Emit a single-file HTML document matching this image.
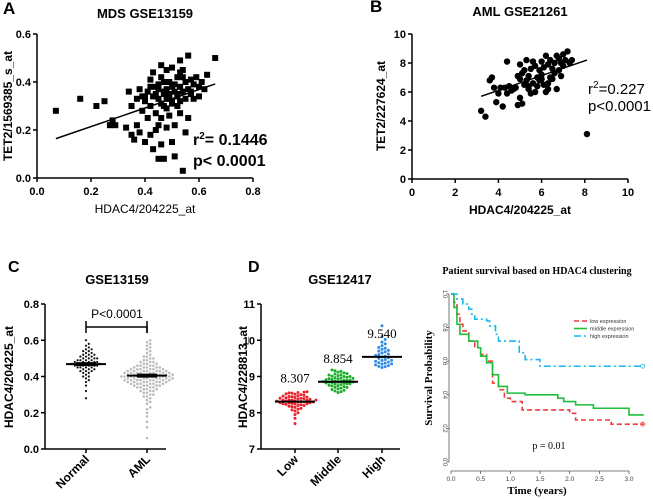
<!DOCTYPE html>
<html><head><meta charset="utf-8">
<style>
body{margin:0;background:#fff;}
svg{display:block;font-family:"Liberation Sans",Arial,sans-serif;}
.b{font-weight:bold;}
.serif{font-family:"Liberation Serif",serif;}
</style></head>
<body>
<svg id="s" width="653" height="500" viewBox="0 0 653 500"></svg>
<script>
// ---------- data ----------
const aX=[0.07,0.16,0.22,0.25,0.27,0.28,0.29,0.33,0.34,0.35,0.35,0.36,0.37,0.37,0.38,0.38,0.39,0.39,0.40,0.40,0.41,0.41,0.42,0.42,0.42,0.43,0.43,0.43,0.44,0.44,0.44,0.45,0.45,0.45,0.45,0.46,0.46,0.46,0.46,0.47,0.47,0.47,0.47,0.48,0.48,0.48,0.48,0.49,0.49,0.49,0.50,0.50,0.50,0.50,0.51,0.51,0.51,0.52,0.52,0.52,0.53,0.53,0.53,0.53,0.54,0.54,0.54,0.55,0.55,0.55,0.56,0.56,0.56,0.57,0.57,0.58,0.58,0.59,0.60,0.60,0.61,0.62,0.63,0.66,0.44,0.46,0.48,0.50,0.52,0.54,0.42,0.40,0.57,0.49,0.51,0.45,0.47,0.53];
const aY=[0.28,0.33,0.30,0.32,0.22,0.24,0.22,0.21,0.36,0.18,0.30,0.16,0.22,0.33,0.19,0.37,0.34,0.28,0.15,0.32,0.25,0.36,0.41,0.18,0.30,0.12,0.34,0.44,0.20,0.35,0.27,0.08,0.39,0.33,0.22,0.47,0.14,0.31,0.25,0.36,0.08,0.30,0.40,0.45,0.33,0.21,0.37,0.26,0.35,0.40,0.15,0.46,0.32,0.38,0.09,0.36,0.22,0.42,0.30,0.34,0.49,0.27,0.38,0.32,0.03,0.45,0.36,0.19,0.40,0.33,0.51,0.25,0.37,0.41,0.35,0.39,0.33,0.42,0.34,0.38,0.40,0.37,0.43,0.50,0.38,0.42,0.29,0.31,0.35,0.42,0.38,0.34,0.36,0.33,0.39,0.37,0.35,0.44];
const aFit=[0.07,0.164,0.66,0.392];
const bX=[3.2,3.4,3.6,3.7,3.8,3.9,4.0,4.1,4.2,4.3,4.4,4.5,4.6,4.7,4.8,4.9,5.0,5.0,5.1,5.1,5.2,5.2,5.3,5.3,5.4,5.4,5.5,5.5,5.6,5.6,5.7,5.7,5.8,5.8,5.9,5.9,6.0,6.0,6.1,6.1,6.2,6.2,6.3,6.3,6.4,6.4,6.5,6.5,6.6,6.6,6.7,6.7,6.8,6.8,6.9,6.9,7.0,7.0,7.1,7.2,7.3,7.4,8.1,4.4,4.9,5.4,6.0,6.3,5.0];
const bY=[4.7,4.3,6.8,7.0,6.3,5.3,5.9,6.3,5.0,6.3,8.1,6.4,6.1,6.2,6.3,5.1,6.9,5.6,7.3,5.2,6.5,7.5,8.2,6.8,7.1,6.2,7.6,5.9,8.1,6.6,7.8,6.0,7.0,6.4,7.5,6.8,8.1,7.2,6.5,7.7,8.5,6.0,7.9,6.6,8.2,7.0,7.6,6.9,8.0,7.3,8.5,6.2,8.3,7.5,8.0,7.1,8.6,7.8,8.2,8.8,8.0,8.2,3.1,5.9,7.1,6.4,6.9,6.2,7.9];
const bFit=[3.2,5.7,8.1,8.2];
const cCats=["Normal","AML"];
const cMeans=[0.468,0.405];
const cNormal=[0.28,0.32,0.35,0.37,0.38,0.39,0.40,0.40,0.41,0.42,0.42,0.43,0.43,0.43,0.44,0.44,0.44,0.45,0.45,0.45,0.45,0.46,0.46,0.46,0.46,0.46,0.47,0.47,0.47,0.47,0.47,0.47,0.48,0.48,0.48,0.48,0.48,0.49,0.49,0.49,0.49,0.50,0.50,0.50,0.50,0.51,0.51,0.51,0.52,0.52,0.52,0.53,0.53,0.54,0.54,0.55,0.55,0.56,0.57,0.58,0.60];
const cAML=[0.06,0.12,0.15,0.18,0.20,0.22,0.23,0.25,0.26,0.27,0.28,0.29,0.29,0.30,0.30,0.31,0.31,0.32,0.32,0.32,0.33,0.33,0.33,0.34,0.34,0.34,0.34,0.35,0.35,0.35,0.35,0.35,0.36,0.36,0.36,0.36,0.36,0.36,0.37,0.37,0.37,0.37,0.37,0.37,0.37,0.38,0.38,0.38,0.38,0.38,0.38,0.38,0.38,0.39,0.39,0.39,0.39,0.39,0.39,0.39,0.39,0.40,0.40,0.40,0.40,0.40,0.40,0.40,0.40,0.40,0.41,0.41,0.41,0.41,0.41,0.41,0.41,0.41,0.42,0.42,0.42,0.42,0.42,0.42,0.42,0.42,0.43,0.43,0.43,0.43,0.43,0.43,0.43,0.44,0.44,0.44,0.44,0.44,0.44,0.45,0.45,0.45,0.45,0.45,0.46,0.46,0.46,0.46,0.47,0.47,0.47,0.48,0.48,0.48,0.49,0.49,0.50,0.50,0.51,0.51,0.52,0.53,0.54,0.55,0.56,0.57,0.58,0.59,0.60];
const dCats=["Low","Middle","High"];
const dMeans=[8.307,8.854,9.540];
const dLow=[7.70,7.85,7.95,8.00,8.05,8.08,8.10,8.12,8.15,8.17,8.18,8.20,8.20,8.22,8.23,8.24,8.25,8.26,8.27,8.28,8.28,8.29,8.30,8.30,8.31,8.32,8.32,8.33,8.34,8.35,8.35,8.36,8.37,8.38,8.39,8.40,8.40,8.41,8.42,8.43,8.44,8.45,8.46,8.47,8.48,8.50,8.51,8.52,8.54,8.55,8.56,8.57,8.58,8.25,8.35];
const dMid=[8.56,8.58,8.60,8.62,8.64,8.66,8.68,8.70,8.72,8.74,8.75,8.76,8.78,8.79,8.80,8.81,8.82,8.83,8.84,8.85,8.85,8.86,8.87,8.88,8.89,8.90,8.91,8.92,8.93,8.94,8.95,8.96,8.97,8.98,9.00,9.01,9.02,9.04,9.05,9.07,9.08,9.10,9.12,9.14,9.16,9.18,8.70,8.90,8.80,9.00];
const dHigh=[9.25,9.27,9.28,9.30,9.32,9.34,9.35,9.37,9.38,9.40,9.42,9.44,9.45,9.47,9.50,9.52,9.54,9.56,9.58,9.60,9.62,9.65,9.68,9.70,9.72,9.75,9.78,9.80,9.85,9.90,9.95,10.02,10.10,10.40];
const sTime=[0,3.25];
const lowT=[0,0.05,0.1,0.15,0.2,0.3,0.4,0.5,0.6,0.7,0.8,0.9,1.0,1.2,2.0,2.1,2.7];
const lowS=[1,0.95,0.88,0.82,0.78,0.72,0.68,0.64,0.60,0.47,0.43,0.38,0.36,0.31,0.29,0.25,0.225];
const midT=[0,0.05,0.1,0.15,0.3,0.45,0.5,0.6,0.7,0.8,0.95,1.25,1.8,1.9,2.1,2.4,3.0];
const midS=[1,0.92,0.82,0.76,0.72,0.68,0.63,0.59,0.52,0.45,0.41,0.40,0.38,0.36,0.34,0.32,0.28];
const highT=[0,0.1,0.2,0.3,0.35,0.4,0.6,0.65,0.75,0.8,1.15,1.25,1.5];
const highS=[1,0.97,0.94,0.91,0.88,0.85,0.84,0.81,0.76,0.72,0.65,0.61,0.57];

// ---------- helpers ----------
const NS="http://www.w3.org/2000/svg", S=document.getElementById('s');
function el(t,a,p){const e=document.createElementNS(NS,t);for(const k in a)e.setAttribute(k,a[k]);(p||S).appendChild(e);return e;}
function tx(x,y,s,a,p){const e=el('text',Object.assign({x:x,y:y},a),p);e.textContent=s;return e;}
function lin(d0,d1,r0,r1){return v=>r0+(v-d0)*(r1-r0)/(d1-d0);}
function grp(name){const g=el('g',{});return g;}

// ---------- Panel A ----------
(function(){
 const g=grp('panel-a'); const X=lin(0,0.8,37,253), Y=lin(0,0.6,178,34);
 tx(3,14,'A',{'font-size':17,class:'b'},g);
 const t=tx(145,18,'MDS GSE13159',{'font-size':13,class:'b','text-anchor':'middle'},g);
 el('line',{x1:37,y1:34,x2:37,y2:178,stroke:'#000','stroke-width':1.5},g);
 el('line',{x1:37,y1:178,x2:253,y2:178,stroke:'#000','stroke-width':1.5},g);
 [0,0.2,0.4,0.6].forEach(v=>{el('line',{x1:33,x2:37,y1:Y(v),y2:Y(v),stroke:'#000','stroke-width':1.5},g);tx(31,Y(v)+4,v.toFixed(1),{'font-size':11,class:'b','text-anchor':'end'},g);});
 [0,0.2,0.4,0.6,0.8].forEach(v=>{el('line',{x1:X(v),x2:X(v),y1:178,y2:182,stroke:'#000','stroke-width':1.5},g);tx(X(v),195,v.toFixed(1),{'font-size':11,class:'b','text-anchor':'middle'},g);});
 tx(145,213,'HDAC4/204225_at',{'font-size':12,'text-anchor':'middle'},g);
 tx(0,0,'TET2/1569385_s_at',{'font-size':12,class:'b','text-anchor':'middle',transform:'translate(12,106) rotate(-90)'},g);
 aX.forEach((v,i)=>{const r=el('rect',{x:X(v)-3,y:Y(aY[i])-3,width:6,height:6,fill:'#000'},g);});
 el('line',{x1:X(aFit[0]),y1:Y(aFit[1]),x2:X(aFit[2]),y2:Y(aFit[3]),stroke:'#000','stroke-width':1.5},g);
 const r2=tx(193,145,'',{'font-size':16,class:'b'},g);r2.innerHTML='r<tspan dy="-6" font-size="10">2</tspan><tspan dy="6">= 0.1446</tspan>';
 tx(193,166,'p< 0.0001',{'font-size':16,class:'b'},g);
})();

// ---------- Panel B ----------
(function(){
 const g=grp('panel-b'); const X=lin(0,10,412,628), Y=lin(0,10,179,34);
 tx(370,12,'B',{'font-size':17,class:'b'},g);
 tx(520,16,'AML GSE21261',{'font-size':13,class:'b','text-anchor':'middle'},g);
 el('line',{x1:412,y1:34,x2:412,y2:179,stroke:'#000','stroke-width':1.5},g);
 el('line',{x1:412,y1:179,x2:628,y2:179,stroke:'#000','stroke-width':1.5},g);
 [0,2,4,6,8,10].forEach(v=>{el('line',{x1:408,x2:412,y1:Y(v),y2:Y(v),stroke:'#000','stroke-width':1.5},g);tx(406,Y(v)+4,v,{'font-size':11,class:'b','text-anchor':'end'},g);
  el('line',{x1:X(v),x2:X(v),y1:179,y2:183,stroke:'#000','stroke-width':1.5},g);tx(X(v),196,v,{'font-size':11,class:'b','text-anchor':'middle'},g);});
 tx(520,214,'HDAC4/204225_at',{'font-size':12,class:'b','text-anchor':'middle'},g);
 tx(0,0,'TET2/227624_at',{'font-size':12,class:'b','text-anchor':'middle',transform:'translate(385,106) rotate(-90)'},g);
 bX.forEach((v,i)=>{const c=el('circle',{cx:X(v),cy:Y(bY[i]),r:3.2,fill:'#000'},g);});
 el('line',{x1:X(bFit[0]),y1:Y(bFit[1]),x2:X(bFit[2]),y2:Y(bFit[3]),stroke:'#000','stroke-width':1.5},g);
 const r2=tx(588,94,'',{'font-size':15},g);r2.innerHTML='r<tspan dy="-6" font-size="10">2</tspan><tspan dy="6">=0.227</tspan>';
 tx(588,111,'p<0.0001',{'font-size':15},g);
})();

// swarm layout
function swarm(vals,Y,cx,d,g,fill,r,name){
 const placed=[];
 vals.slice().sort((a,b)=>a-b).forEach(v=>{
  const y=Y(v);let k=0,x=cx;
  while(true){const off=(k%2?1:-1)*Math.ceil(k/2)*d;x=cx+off;
   if(!placed.some(p=>Math.abs(p[0]-x)<d-0.01&&Math.abs(p[1]-y)<d-0.01))break;k++;if(k>60)break;}
  placed.push([x,y]);
  const c=el('circle',{cx:x,cy:y,r:r,fill:fill},g);});
}

// ---------- Panel C ----------
(function(){
 const g=grp('panel-c'); const Y=lin(0,0.8,449,304); const cx=[86,147];
 tx(8,272,'C',{'font-size':16,class:'b'},g);
 tx(117,284,'GSE13159',{'font-size':13,class:'b','text-anchor':'middle'},g);
 el('line',{x1:45,y1:304,x2:45,y2:449,stroke:'#000','stroke-width':1.5},g);
 el('line',{x1:45,y1:449,x2:166,y2:449,stroke:'#000','stroke-width':1.5},g);
 [0,0.2,0.4,0.6,0.8].forEach(v=>{el('line',{x1:41,x2:45,y1:Y(v),y2:Y(v),stroke:'#000','stroke-width':1.5},g);tx(39,Y(v)+4,v.toFixed(1),{'font-size':11,class:'b','text-anchor':'end'},g);});
 cCats.forEach((c,i)=>{el('line',{x1:cx[i],x2:cx[i],y1:449,y2:453,stroke:'#000','stroke-width':1.5},g);tx(0,0,c,{'font-size':12,class:'b','text-anchor':'end',transform:`translate(${cx[i]+4},${460}) rotate(-45)`},g);});
 tx(0,0,'HDAC4/204225_at',{'font-size':12,class:'b','text-anchor':'middle',transform:'translate(13,377) rotate(-90)'},g);
 swarm(cNormal,Y,cx[0],2.8,g,'#111',1.1,'point-normal');
 swarm(cAML,Y,cx[1],3.2,g,'#bbb',1.3,'point-aml');
 cMeans.forEach((m,i)=>{el('line',{x1:cx[i]-20,x2:cx[i]+20,y1:Y(m),y2:Y(m),stroke:'#000','stroke-width':2},g);el('line',{x1:cx[i]-10,x2:cx[i]+10,y1:Y(m),y2:Y(m),stroke:'#000','stroke-width':4},g);});
 tx(117,318,'P<0.0001',{'font-size':12,'text-anchor':'middle'},g);
 el('path',{d:'M86,333V327H147V333M86,321V327',fill:'none',stroke:'#000','stroke-width':1.5},g);
 el('line',{x1:147,x2:147,y1:321,y2:333,stroke:'#000','stroke-width':1.5},g);
})();

// ---------- Panel D ----------
(function(){
 const g=grp('panel-d'); const Y=lin(7,11,449,304); const cx=[295,338,382];
 tx(248,272,'D',{'font-size':16,class:'b'},g);
 tx(340,284,'GSE12417',{'font-size':13,class:'b','text-anchor':'middle'},g);
 el('line',{x1:261,y1:304,x2:261,y2:449,stroke:'#000','stroke-width':1.5},g);
 el('line',{x1:261,y1:449,x2:400,y2:449,stroke:'#000','stroke-width':1.5},g);
 [7,8,9,10,11].forEach(v=>{el('line',{x1:257,x2:261,y1:Y(v),y2:Y(v),stroke:'#000','stroke-width':1.5},g);tx(255,Y(v)+4,v,{'font-size':11,class:'b','text-anchor':'end'},g);});
 dCats.forEach((c,i)=>{el('line',{x1:cx[i],x2:cx[i],y1:449,y2:453,stroke:'#000','stroke-width':1.5},g);tx(0,0,c,{'font-size':12,class:'b','text-anchor':'end',transform:`translate(${cx[i]+4},${460}) rotate(-45)`},g);});
 tx(0,0,'HDAC4/228813_at',{'font-size':12,class:'b','text-anchor':'middle',transform:'translate(247,377) rotate(-90)'},g);
 swarm(dLow,Y,cx[0],3,g,'#e8232a',1.5,'point-low');
 swarm(dMid,Y,cx[1],3,g,'#1fad2c',1.5,'point-middle');
 swarm(dHigh,Y,cx[2],3.2,g,'#2e8be6',1.5,'point-high');
 dMeans.forEach((m,i)=>{el('line',{x1:cx[i]-20,x2:cx[i]+20,y1:Y(m),y2:Y(m),stroke:'#000','stroke-width':2},g);
  tx(cx[i],Y(m)-19,m.toFixed(3),{'font-size':13,class:'serif','text-anchor':'middle'},g);});
})();

// ---------- Survival ----------
(function(){
 const g=grp('panel-survival'); const X=lin(0,3,451,629), Y=lin(0,1,462,294);
 tx(537,274,'Patient survival based on HDAC4 clustering',{'font-size':10,class:'b serif','text-anchor':'middle'},g);
 el('line',{x1:449,y1:294,x2:449,y2:462,stroke:'#555','stroke-width':0.8},g);
 el('line',{x1:451,y1:471,x2:629,y2:471,stroke:'#555','stroke-width':0.8},g);
 [0,0.2,0.4,0.6,0.8,1.0].forEach(v=>{el('line',{x1:446,x2:449,y1:Y(v),y2:Y(v),stroke:'#555','stroke-width':0.8},g);tx(0,0,v.toFixed(1),{'font-size':6,fill:'#444','text-anchor':'middle',transform:`translate(443,${Y(v)}) rotate(90)`},g);});
 [0,0.5,1,1.5,2,2.5,3].forEach(v=>{el('line',{x1:X(v),x2:X(v),y1:471,y2:474,stroke:'#555','stroke-width':0.8},g);tx(X(v),481,v.toFixed(1),{'font-size':6.5,fill:'#444','text-anchor':'middle'},g);});
 tx(537,494,'Time (years)',{'font-size':11,class:'b serif','text-anchor':'middle'},g);
 tx(0,0,'Survival Probability',{'font-size':11,class:'b serif','text-anchor':'middle',transform:'translate(432,378) rotate(-90)'},g);
 function step(T,Sv,col,dash,name){let d=`M${X(T[0])},${Y(Sv[0])}`;for(let i=1;i<T.length;i++){d+=`H${X(T[i])}V${Y(Sv[i])}`;}d+=`H${X(sTime[1])}`;
  const p=el('path',{d:d,fill:'none',stroke:col,'stroke-width':1.6,'stroke-dasharray':dash},g);}
 step(lowT,lowS,'#f0393c','5,3','curve-low');
 step(midT,midS,'#1fbf3a','','curve-middle');
 step(highT,highS,'#19b6f0','7,3,2,3','curve-high');
 el('circle',{cx:X(3.23),cy:Y(0.57),r:2,fill:'none',stroke:'#19b6f0','stroke-width':0.8},g);
 el('circle',{cx:X(3.23),cy:Y(0.225),r:2,fill:'none',stroke:'#f0393c','stroke-width':0.8},g);
 const lg=[['low expression','#f0393c','5,3'],['middle expression','#1fbf3a',''],['high expression','#19b6f0','7,3,2,3']];
 lg.forEach((l,i)=>{const y=321+i*7.5;el('line',{x1:574,x2:587,y1:y,y2:y,stroke:l[1],'stroke-width':1.6,'stroke-dasharray':l[2]},g);tx(590,y+2,l[0],{'font-size':5.5,fill:'#333'},g);});
 tx(549,449,'p = 0.01',{'font-size':10,class:'serif','text-anchor':'middle'},g);
})();
</script>
</body></html>
